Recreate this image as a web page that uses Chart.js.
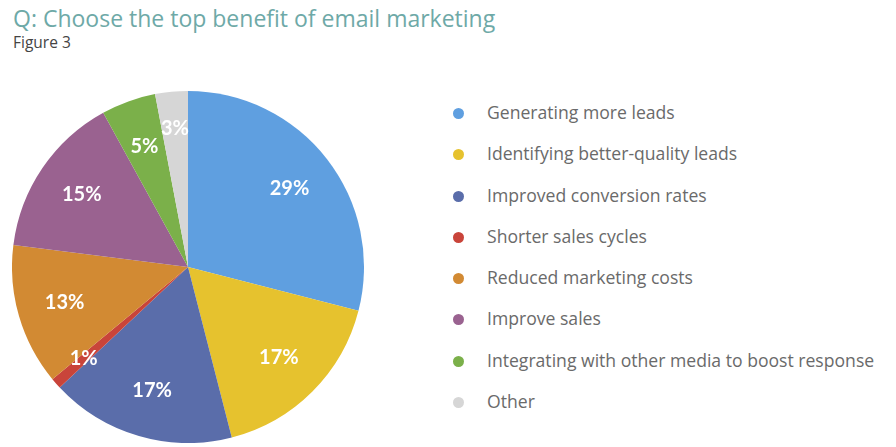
<!DOCTYPE html>
<html>
<head>
<meta charset="utf-8">
<script src="https://cdn.jsdelivr.net/npm/chart.js@4/dist/chart.umd.min.js"></script>
<style>
  body { margin: 0; background: #fff; width: 896px; height: 447px; overflow: hidden; position: relative; font-family: "Open Sans", sans-serif; }
  #title { position: absolute; left: 13px; top: 2px; font-size: 23px; color: #6ea9a7; font-weight: 400; }
  #sub { position: absolute; left: 13px; top: 31px; font-size: 15.5px; color: #444; }
  #pieBox { position: absolute; left: 12px; top: 91px; width: 352px; height: 352px; }
  #legend { position: absolute; left: 453px; top: 100px; }
  .item { height: 41.3px; display: flex; align-items: flex-start; font-size: 17.6px; color: #6a6a6a; }
  .dot { width: 11px; height: 11px; border-radius: 50%; margin-top: 8px; margin-right: 23px; }
</style>
</head>
<body>
<div id="title">Q: Choose the top benefit of email marketing</div>
<div id="sub">Figure 3</div>
<div id="pieBox"><canvas id="pie"></canvas></div>
<div id="legend"></div>
<script>
const labels = [
  "Generating more leads",
  "Identifying better-quality leads",
  "Improved conversion rates",
  "Shorter sales cycles",
  "Reduced marketing costs",
  "Improve sales",
  "Integrating with other media to boost response",
  "Other"
];
const values = [29, 17, 17, 1, 13, 15, 5, 3];
const colors = ["#5f9fe0", "#e6c22e", "#5a6daa", "#c9443a", "#d28a33", "#9a6290", "#7bb04a", "#d6d6d6"];

// legend as html
const legend = document.getElementById("legend");
labels.forEach((l, i) => {
  const row = document.createElement("div");
  row.className = "item";
  row.innerHTML = `<span class="dot" style="background:${colors[i]}"></span><span>${l}</span>`;
  legend.appendChild(row);
});

// percent labels inside slices
const sliceLabels = {
  id: "sliceLabels",
  afterDatasetsDraw(chart) {
    const ctx = chart.ctx;
    const meta = chart.getDatasetMeta(0);
    ctx.save();
    ctx.fillStyle = "#fff";
    ctx.font = "bold 20px Lato";
    ctx.textAlign = "center";
    ctx.textBaseline = "middle";
    meta.data.forEach((arc, i) => {
      const mid = (arc.startAngle + arc.endAngle) / 2;
      // tiny slices get their label pushed out a bit
      const r = arc.outerRadius * (values[i] <= 3 ? 0.79 : 0.73);
      ctx.fillText(values[i] + "%", arc.x + Math.cos(mid) * r, arc.y + Math.sin(mid) * r);
    });
    ctx.restore();
  }
};

new Chart(document.getElementById("pie"), {
  type: "pie",
  data: {
    labels,
    datasets: [{ data: values, backgroundColor: colors, borderWidth: 0 }]
  },
  options: {
    responsive: true,
    maintainAspectRatio: false,
    animation: false,
    layout: { padding: 0 },
    plugins: { legend: { display: false }, tooltip: { enabled: false } }
  },
  plugins: [sliceLabels]
});
</script>
</body>
</html>
